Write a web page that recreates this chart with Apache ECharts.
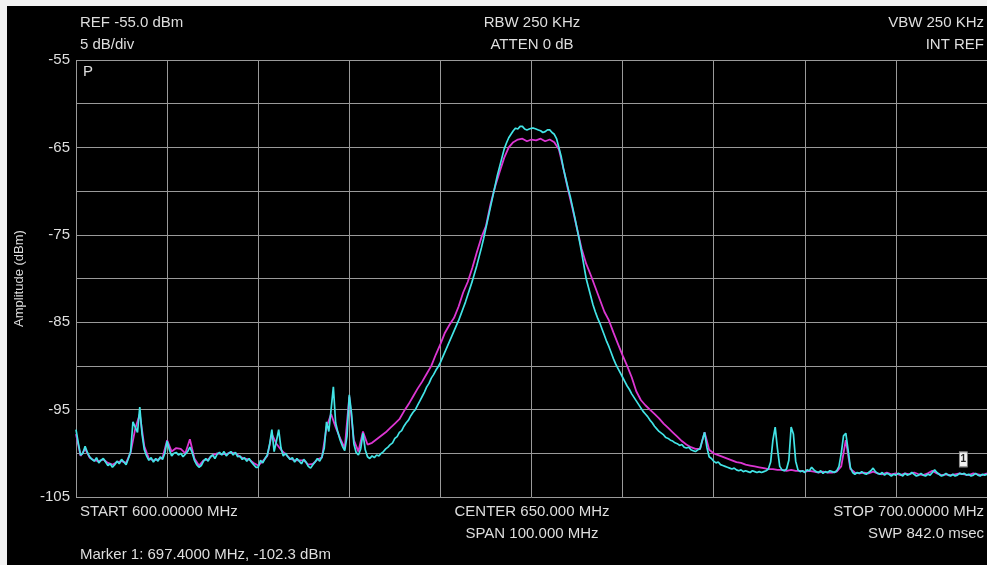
<!DOCTYPE html>
<html>
<head>
<meta charset="utf-8">
<script src="https://cdn.jsdelivr.net/npm/echarts@6/dist/echarts.min.js"></script>
<style>
html,body{margin:0;padding:0;background:#fff;}
#chart{width:987px;height:565px;}
</style>
</head>
<body>
<div id="chart"></div>
<script>
// ---- data ----
const FREQ_START = 600;      // MHz
const FREQ_STOP = 700;       // MHz
const CYAN_STEP = 0.25;      // MHz between cyan trace samples
const MAGENTA_STEP = 0.5;    // MHz between magenta trace samples

const cyanTrace = [
  -97.3, -98.8, -100.2, -100.0, -99.2, -99.9, -100.4, -100.7, -100.9, -100.5, -101.1, -100.8, -100.6, -101.0, -101.4, -101.2, -101.6, -101.3, -100.9, -101.2,
  -100.7, -101.0, -101.3, -100.6, -99.8, -96.4, -97.0, -97.6, -94.7, -97.8, -99.6, -100.3, -100.8, -100.5, -101.0, -100.6, -100.9, -100.4, -100.7, -100.0,
  -98.6, -99.6, -100.3, -100.0, -99.9, -100.2, -100.0, -100.4, -100.1, -99.8, -99.3, -99.9, -100.8, -101.3, -101.6, -101.4, -100.9, -100.6, -100.9, -100.4,
  -100.2, -100.6, -100.1, -99.9, -100.2, -99.8, -100.3, -100.0, -99.8, -100.2, -99.9, -100.4, -100.3, -100.7, -100.5, -100.9, -100.6, -101.0, -101.3, -101.6,
  -101.6, -100.8, -101.1, -100.6, -100.2, -99.0, -97.3, -99.8, -98.6, -97.3, -99.4, -100.3, -100.0, -100.4, -100.7, -100.5, -101.0, -100.6, -100.9, -101.2,
  -100.7, -101.0, -101.5, -101.7, -101.3, -101.0, -100.6, -100.9, -100.4, -99.4, -96.4, -97.5, -95.0, -92.4, -96.5, -97.6, -98.5, -99.2, -99.7, -98.0,
  -93.3, -95.5, -98.9, -99.9, -100.2, -99.5, -97.7, -99.6, -100.4, -100.6, -100.3, -100.5, -100.2, -100.3, -100.0, -99.8, -99.5, -99.3, -99.0, -98.8,
  -98.3, -98.1, -97.6, -97.4, -96.9, -96.5, -96.2, -95.7, -95.3, -95.0, -94.5, -94.0, -93.5, -93.0, -92.4, -92.0, -91.4, -91.0, -90.5, -90.1,
  -89.6, -89.0, -88.4, -87.8, -87.2, -86.6, -86.0, -85.4, -84.8, -84.1, -83.4, -82.7, -81.9, -81.1, -80.3, -79.4, -78.5, -77.5, -76.5, -75.4,
  -74.2, -73.0, -71.8, -70.6, -69.4, -68.2, -67.2, -66.2, -65.2, -64.5, -63.9, -63.5, -63.1, -62.8, -62.9, -62.6, -62.6, -62.9, -63.0, -62.9,
  -62.8, -62.8, -62.9, -63.0, -63.1, -63.3, -63.2, -63.0, -63.0, -63.3, -63.5, -64.0, -65.0, -66.0, -67.4, -68.5, -69.6, -70.6, -71.8, -73.0,
  -74.3, -75.6, -77.0, -78.5, -80.0, -81.0, -82.0, -83.0, -83.8, -84.5, -85.1, -85.8, -86.5, -87.2, -87.8, -88.5, -89.2, -89.8, -90.3, -90.8,
  -91.3, -91.8, -92.3, -92.7, -93.2, -93.6, -94.0, -94.4, -94.8, -95.2, -95.5, -95.8, -96.2, -96.5, -96.9, -97.2, -97.5, -97.7, -97.9, -98.2,
  -98.3, -98.5, -98.6, -98.8, -98.9, -99.1, -99.0, -99.3, -99.4, -99.3, -99.6, -99.7, -99.8, -99.6, -99.5, -98.5, -97.6, -99.3, -100.4, -100.6,
  -100.9, -101.1, -101.0, -101.3, -101.4, -101.5, -101.6, -101.7, -101.8, -101.7, -101.9, -102.0, -101.9, -102.1, -102.0, -102.1, -102.2, -102.0, -102.1, -102.2,
  -102.1, -102.2, -102.1, -102.0, -101.8, -101.0, -98.5, -97.0, -99.5, -101.5, -101.9, -102.0, -101.8, -100.8, -97.0, -97.8, -100.9, -101.9, -102.1, -102.0,
  -102.2, -101.9, -102.0, -101.6, -101.9, -102.1, -102.2, -102.0, -102.3, -102.1, -102.2, -102.0, -102.1, -102.2, -102.0, -101.5, -100.0, -98.0, -97.7, -99.6,
  -101.6, -102.2, -102.4, -102.2, -102.3, -102.1, -102.3, -102.4, -102.2, -102.0, -101.7, -102.1, -102.3, -102.4, -102.2, -102.5, -102.3, -102.4, -102.6, -102.4,
  -102.5, -102.3, -102.4, -102.6, -102.3, -102.5, -102.4, -102.2, -102.4, -102.6, -102.5, -102.3, -102.5, -102.6, -102.4, -102.5, -102.2, -101.9, -102.2, -102.4,
  -102.6, -102.5, -102.3, -102.5, -102.6, -102.4, -102.6, -102.5, -102.3, -102.4, -102.3, -102.5, -102.4, -102.6, -102.5, -102.3, -102.5, -102.6, -102.4, -102.5,
  -102.4
];

const magentaTrace = [
  -97.8, -100.3, -99.5, -100.5, -100.8, -100.9, -100.7, -101.1, -101.3, -101.0,
  -100.9, -101.1, -99.9, -97.2, -95.5, -99.2, -100.6, -100.8, -100.7, -100.5,
  -98.5, -99.8, -99.4, -99.5, -100.0, -98.4, -100.6, -101.4, -100.8, -100.7,
  -100.2, -100.0, -100.1, -100.1, -99.9, -100.0, -100.4, -100.6, -100.7, -101.1,
  -101.4, -100.9, -100.3, -97.8, -98.9, -99.6, -100.1, -100.6, -100.8, -100.8,
  -100.8, -101.3, -101.2, -100.7, -100.5, -97.0, -95.5, -97.0, -98.3, -99.4,
  -93.5, -98.5, -99.8, -97.5, -99.0, -98.8, -98.4, -98.0, -97.6, -97.1,
  -96.6, -96.1, -95.2, -94.4, -93.5, -92.6, -91.8, -90.9, -90.0, -88.7,
  -87.5, -86.2, -85.3, -84.5, -83.2, -81.6, -80.4, -78.8, -77.0, -75.3,
  -74.0, -71.5, -69.5, -67.8, -66.2, -65.0, -64.4, -64.1, -64.0, -64.3,
  -64.1, -64.2, -64.0, -64.3, -64.1, -64.4, -65.2, -67.4, -69.8, -72.0,
  -74.3, -76.6, -78.3, -79.6, -81.0, -82.4, -83.8, -84.8, -86.2, -87.5,
  -88.8, -90.0, -91.3, -92.9, -93.9, -94.5, -95.0, -95.5, -96.0, -96.6,
  -97.1, -97.6, -98.1, -98.6, -99.0, -99.3, -99.5, -99.5, -97.6, -99.6,
  -100.0, -100.2, -100.4, -100.6, -100.8, -101.0, -101.1, -101.3, -101.4, -101.5,
  -101.6, -101.7, -101.8, -101.8, -101.9, -101.9, -102.0, -101.9, -102.0, -102.0,
  -102.1, -102.0, -102.1, -102.2, -102.1, -102.2, -102.2, -102.1, -101.5, -98.5,
  -101.8, -102.2, -102.3, -102.2, -102.3, -102.1, -102.3, -102.4, -102.2, -102.4,
  -102.3, -102.5, -102.3, -102.4, -102.2, -102.4, -102.5, -102.3, -102.0, -102.3,
  -102.5, -102.4, -102.5, -102.4, -102.3, -102.4, -102.5, -102.3, -102.4, -102.5,
  -102.3
];

const yTickLabels = ['-55', '-65', '-75', '-85', '-95', '-105'];
const markerFreq = 697.4;
const markerAmp = -102.3;
const markerName = '1';

const headerLeft = ['REF -55.0 dBm', '5 dB/div'];
const headerCenter = ['RBW 250 KHz', 'ATTEN 0 dB'];
const headerRight = ['VBW 250 KHz', 'INT REF'];
const footerLeft = ['START 600.00000 MHz', 'Marker 1: 697.4000 MHz, -102.3 dBm'];
const footerCenter = ['CENTER 650.000 MHz', 'SPAN 100.000 MHz'];
const footerRight = ['STOP 700.00000 MHz', 'SWP 842.0 msec'];
const detectorLabel = 'P';
const yAxisName = 'Amplitude (dBm)';

// ---- rendering ----
const FONT = '"Liberation Sans", Arial, sans-serif';
const TXT = '#dedede';
const toPairs = (arr, step) => arr.map((v, i) => [FREQ_START + i * step, v]);

function txt(text, x, y, align, size) {
  return {
    type: 'text', x: x, y: y, silent: true,
    style: { text: text, fill: TXT, font: (size || 15) + 'px ' + FONT, align: align, verticalAlign: 'middle' }
  };
}

const chart = echarts.init(document.getElementById('chart'), null, { renderer: 'canvas' });
chart.setOption({
  animation: false,
  backgroundColor: '#000',
  grid: { left: 76, top: 60, right: 0, bottom: 68 },
  xAxis: {
    type: 'value', min: FREQ_START, max: FREQ_STOP, interval: 10,
    axisLabel: { show: false }, axisTick: { show: false }, axisLine: { show: false },
    splitLine: { show: true, lineStyle: { color: '#9a9a9a', width: 1 } }
  },
  yAxis: {
    type: 'value', min: -105, max: -55, interval: 5,
    name: yAxisName, nameLocation: 'middle', nameGap: 50, nameRotate: 90,
    nameTextStyle: { color: TXT, fontSize: 13, fontFamily: FONT },
    axisLine: { show: false }, axisTick: { show: false },
    axisLabel: {
      color: TXT, fontSize: 15, fontFamily: FONT, margin: 6,
      formatter: v => (yTickLabels.indexOf(String(v)) >= 0 ? String(v) : '')
    },
    splitLine: { show: true, lineStyle: { color: '#9a9a9a', width: 1 } }
  },
  series: [
    {
      name: 'Trace 2', type: 'line', data: toPairs(magentaTrace, MAGENTA_STEP),
      showSymbol: false, symbol: 'none', silent: true,
      lineStyle: { color: '#dc36d2', width: 1.8 }
    },
    {
      name: 'Trace 1', type: 'line', data: toPairs(cyanTrace, CYAN_STEP),
      showSymbol: false, symbol: 'none', silent: true,
      lineStyle: { color: '#42e4e6', width: 1.7 },
      markPoint: {
        silent: true,
        symbol: 'rect', symbolSize: [8, 15], symbolOffset: [0, -14],
        itemStyle: { color: '#f2f2f2', borderColor: '#888', borderWidth: 1 },
        label: { show: true, formatter: markerName, color: '#222', fontSize: 10, fontWeight: 'bold', fontFamily: FONT },
        data: [{ coord: [markerFreq, markerAmp] }]
      }
    }
  ],
  graphic: [
    { type: 'rect', shape: { x: 0, y: 0, width: 7, height: 565 }, style: { fill: '#f2f2f2' }, silent: true },
    { type: 'rect', shape: { x: 0, y: 0, width: 987, height: 6 }, style: { fill: '#f2f2f2' }, silent: true },
    txt(headerLeft[0], 80, 23, 'left'),
    txt(headerLeft[1], 80, 45, 'left'),
    txt(headerCenter[0], 532, 23, 'center'),
    txt(headerCenter[1], 532, 45, 'center'),
    txt(headerRight[0], 984, 23, 'right'),
    txt(headerRight[1], 984, 45, 'right'),
    txt(detectorLabel, 83, 72, 'left'),
    txt(footerLeft[0], 80, 512, 'left'),
    txt(footerLeft[1], 80, 555, 'left'),
    txt(footerCenter[0], 532, 512, 'center'),
    txt(footerCenter[1], 532, 534, 'center'),
    txt(footerRight[0], 984, 512, 'right'),
    txt(footerRight[1], 984, 534, 'right')
  ]
});
</script>
</body>
</html>
